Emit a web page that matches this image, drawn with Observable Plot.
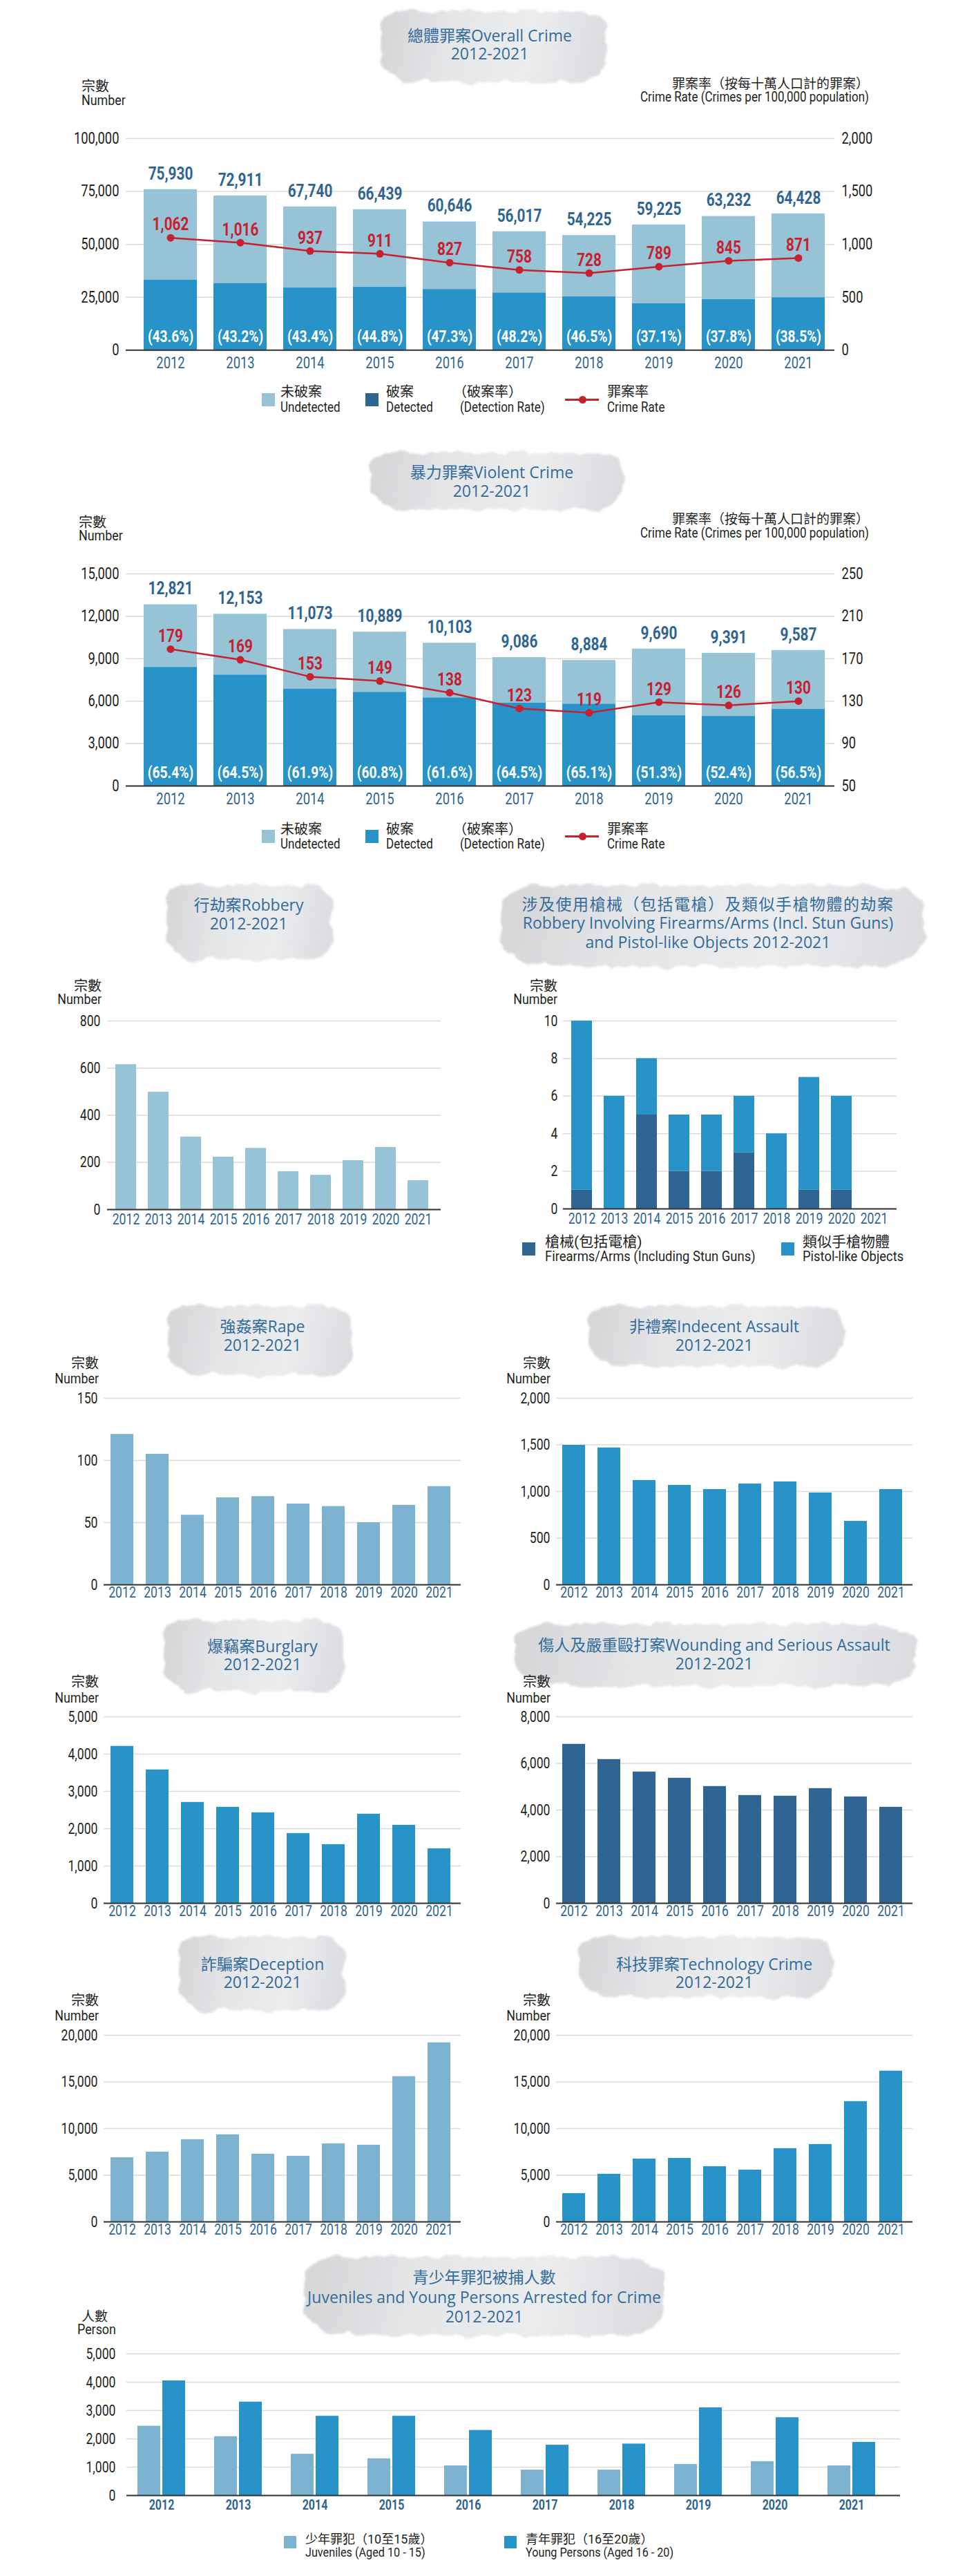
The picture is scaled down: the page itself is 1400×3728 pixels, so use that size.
<!DOCTYPE html>
<html><head><meta charset="utf-8">
<script src="https://cdn.jsdelivr.net/npm/d3@7"></script>
<script src="https://cdn.jsdelivr.net/npm/@observablehq/plot@0.6"></script>
<style>
html,body{margin:0;padding:0;background:#fff;}
#page{position:relative;width:1400px;height:3728px;overflow:hidden;background:#fff;}
.t{position:absolute;white-space:nowrap;line-height:1;}
.brush{position:absolute;filter:url(#rough);opacity:0.95;
 background:linear-gradient(100deg,#d2d3d6 0%,#e3e4e6 30%,#eaebed 65%,#d9dadd 100%);
 border-radius:10% 16% 12% 18% / 30% 24% 35% 28%;}
.sw{position:absolute;}
</style></head><body>
<svg width="0" height="0" style="position:absolute">
  <defs>
    <filter id="rough" x="-10%" y="-20%" width="120%" height="140%">
      <feTurbulence type="fractalNoise" baseFrequency="0.035" numOctaves="3" seed="4" result="noise"/>
      <feDisplacementMap in="SourceGraphic" in2="noise" scale="16" xChannelSelector="R" yChannelSelector="G" result="disp"/>
      <feGaussianBlur in="disp" stdDeviation="1.6"/>
    </filter>
  </defs>
</svg>
<div id="page"></div>
<script>
// ---------- data ----------
const years = ["2012","2013","2014","2015","2016","2017","2018","2019","2020","2021"];

const overallTotal = [75930,72911,67740,66439,60646,56017,54225,59225,63232,64428];
const overallDetected = [33105,31498,29399,29765,28686,27000,25215,21972,23902,24805];
const overallDetectionRate = ["43.6","43.2","43.4","44.8","47.3","48.2","46.5","37.1","37.8","38.5"];
const overallCrimeRate = [1062,1016,937,911,827,758,728,789,845,871];

const violentTotal = [12821,12153,11073,10889,10103,9086,8884,9690,9391,9587];
const violentDetected = [8385,7839,6854,6621,6223,5860,5783,4971,4921,5417];
const violentDetectionRate = ["65.4","64.5","61.9","60.8","61.6","64.5","65.1","51.3","52.4","56.5"];
const violentCrimeRate = [179,169,153,149,138,123,119,129,126,130];

const robbery = [615,498,308,223,260,161,146,208,264,123];
const firearmsArms = [1,0,5,2,2,3,0,1,1,0];
const pistolLike = [9,6,3,3,3,3,4,6,5,0];
const rape = [121,105,56,70,71,65,63,50,64,79];
const indecentAssault = [1496,1468,1119,1067,1022,1082,1104,985,681,1022];
const burglary = [4209,3578,2707,2577,2429,1873,1576,2392,2095,1465];
const wounding = [6823,6170,5636,5369,5013,4628,4598,4924,4568,4123];
const deception = [6897,7491,8826,9345,7268,7046,8381,8232,15575,19209];
const technology = [3041,5117,6749,6823,5933,5562,7862,8307,12905,16168];
const juveniles = [2450,2080,1460,1300,1050,900,900,1100,1200,1050];
const youngPersons = [4050,3300,2800,2800,2300,1780,1820,3100,2750,1880];

// ---------- style ----------
const NARROW = '"Roboto","Noto Sans CJK TC",sans-serif';
const TITLEF = '"Open Sans","Noto Sans CJK TC",sans-serif';
const LIGHT = "#96c3d6", MID = "#2893c8", DARK = "#2f6592", PALE = "#7db3d1", RED = "#c8202f";
const TITLEC = "#336c9c", INK = "#231f20", GRID = "#dadada";
const fmt = d3.format(",");
const CJK = /[\u3000-\u9fff\uff00-\uffef]/;

const page = document.getElementById("page");
function text(x, y, str, o = {}) {
  const d = document.createElement("div");
  d.className = "t"; d.textContent = str;
  const s = d.style;
  s.left = x + "px"; s.top = y + "px";
  s.fontSize = (o.size || 20) + "px";
  s.fontFamily = o.family || NARROW;
  s.color = o.color || INK;
  if (o.weight) s.fontWeight = o.weight;
  if (o.ls) s.letterSpacing = o.ls + "px";
  const cond = o.cond !== undefined ? o.cond : (o.family ? 1 : (CJK.test(str) ? 1 : 0.85));
  const tx = o.anchor === "middle" ? "-50%" : o.anchor === "end" ? "-100%" : "0";
  const ox = o.anchor === "middle" ? "50%" : o.anchor === "end" ? "100%" : "0%";
  s.transformOrigin = `${ox} 50%`;
  s.transform = `translate(${tx},-50%)` + (cond !== 1 ? ` scaleX(${cond})` : "");
  page.appendChild(d);
}
function brush(x, y, w, h) {
  const d = document.createElement("div");
  d.className = "brush";
  Object.assign(d.style, {left: x + "px", top: y + "px", width: w + "px", height: h + "px"});
  page.appendChild(d);
}
function swatch(x, y, w, h, c) {
  const d = document.createElement("div");
  d.className = "sw";
  Object.assign(d.style, {left: x + "px", top: y + "px", width: w + "px", height: h + "px", background: c});
  page.appendChild(d);
}
function condense(svg, f) {
  svg.querySelectorAll("text").forEach(t => {
    const len = t.getComputedTextLength();
    if (len > 0) { t.setAttribute("textLength", (len * f).toFixed(2)); t.setAttribute("lengthAdjust", "spacingAndGlyphs"); }
  });
}
function place(svg, left, top, w) {
  const d = document.createElement("div");
  Object.assign(d.style, {position: "absolute", left: left + "px", top: top + "px", width: w + "px"});
  d.appendChild(svg);
  page.appendChild(d);
  condense(svg, 0.8);
}
function title(cx, lines, y0, dy, o = {}) {
  lines.forEach((l, i) => text(cx, y0 + i * dy, l, {size: o.size || 23, family: TITLEF, color: TITLEC, anchor: "middle", ls: i === 0 ? o.ls : 0}));
}
const baseStyle = {fontFamily: NARROW, fontSize: "21px", color: INK, background: "transparent", overflow: "visible"};

// ---------- dual-axis charts ----------
function dual(cfg) {
  const mt = 50, mb = 44;
  const T = cfg.gridTop - mt, H = cfg.baseline - cfg.gridTop + mt + mb;
  const data = years.map((y, i) => ({year: y, total: cfg.total[i], detected: cfg.detected[i], pct: cfg.pct[i], rate: cfg.rate[i]}));
  const ry = cfg.rateToY;
  const svg = Plot.plot({
    width: 1400, height: H, marginLeft: 182, marginRight: 192, marginTop: mt, marginBottom: mb,
    style: baseStyle,
    x: {type: "band", domain: years, range: [193.8, 1207.2], paddingInner: 0.24, paddingOuter: 0.12, label: null},
    y: {domain: [0, cfg.yMax], label: null},
    marks: [
      Plot.gridY(cfg.yTicks, {stroke: GRID, strokeOpacity: 1, strokeWidth: 1.5}),
      Plot.axisY(cfg.yTicks, {anchor: "left", tickSize: 0, tickPadding: 10, tickFormat: fmt, fontSize: 23, fill: INK, label: null}),
      Plot.axisY(cfg.yTicks, {anchor: "right", tickSize: 0, tickPadding: 10, tickFormat: cfg.rightFmt, fontSize: 23, fill: INK, label: null}),
      Plot.axisX({tickSize: 0, tickPadding: 10, fontSize: 23, fill: DARK, label: null}),
      Plot.barY(data, {x: "year", y: "total", fill: LIGHT}),
      Plot.barY(data, {x: "year", y: "detected", fill: MID}),
      Plot.ruleY([0], {stroke: "#333", strokeWidth: 2}),
      Plot.line(data, {x: "year", y: d => ry(d.rate), stroke: RED, strokeWidth: 2.5}),
      Plot.dot(data, {x: "year", y: d => ry(d.rate), r: 5.5, fill: RED}),
      Plot.text(data, {x: "year", y: "total", text: d => fmt(d.total), dy: -23, fill: DARK, fontWeight: "bold", fontSize: 26}),
      Plot.text(data, {x: "year", y: d => ry(d.rate), text: d => fmt(d.rate), dy: -19, fill: RED, fontWeight: "bold", fontSize: 26}),
      Plot.text(data, {x: "year", y: 0, text: d => `(${d.pct}%)`, dy: -19, fill: "#fff", fontWeight: "bold", fontSize: 24})
    ]
  });
  place(svg, 0, T, 1400);
}

function dualLegend(y1, y2, detColor) {
  const sy = (y1 + y2) / 2 - 9.5;
  swatch(379, sy, 19, 19, LIGHT);
  text(406, y1, "未破案"); text(406, y2, "Undetected");
  swatch(529, sy, 19, 19, detColor);
  text(559, y1, "破案"); text(559, y2, "Detected");
  text(656, y1, "（破案率）"); text(666, y2, "(Detection Rate)");
  const ly = (y1 + y2) / 2;
  swatch(818, ly - 1.5, 49, 3, RED);
  const dot = document.createElement("div");
  Object.assign(dot.style, {position: "absolute", left: (843 - 5.5) + "px", top: (ly - 5.5) + "px", width: "11px", height: "11px", borderRadius: "50%", background: RED});
  page.appendChild(dot);
  text(879, y1, "罪案率"); text(879, y2, "Crime Rate");
}

// Overall crime
brush(551, 16, 328, 103);
title(709, ["總體罪案Overall Crime", "2012-2021"], 50.6, 26.5);
text(118, 124.5, "宗數"); text(118, 145, "Number", {size: 21});
text(1258, 120.6, "罪案率（按每十萬人口計的罪案）", {size: 19, anchor: "end"});
text(1258, 140, "Crime Rate (Crimes per 100,000 population)", {size: 20, anchor: "end"});
dual({gridTop: 199.7, baseline: 506, total: overallTotal, detected: overallDetected, pct: overallDetectionRate, rate: overallCrimeRate,
  yMax: 100000, yTicks: [0, 25000, 50000, 75000, 100000], rightFmt: d => fmt(d / 50), rateToY: r => r * 50});
dualLegend(567, 589, DARK);

// Violent crime
brush(536, 655, 365, 83);
title(712, ["暴力罪案Violent Crime", "2012-2021"], 683, 27);
text(114, 756, "宗數"); text(114, 775, "Number", {size: 21});
text(1258, 751, "罪案率（按每十萬人口計的罪案）", {size: 19, anchor: "end"});
text(1258, 771, "Crime Rate (Crimes per 100,000 population)", {size: 20, anchor: "end"});
dual({gridTop: 830, baseline: 1137, total: violentTotal, detected: violentDetected, pct: violentDetectionRate, rate: violentCrimeRate,
  yMax: 15000, yTicks: [0, 3000, 6000, 9000, 12000, 15000], rightFmt: d => fmt(50 + d / 75), rateToY: r => (r - 50) * 75});
dualLegend(1199.5, 1221, MID);

// ---------- simple bar charts ----------
function simple(cfg) {
  const mt = 30, mb = 40, L = cfg.left;
  const T = cfg.gridTop - mt, H = cfg.baseline - cfg.gridTop + mt + mb;
  const step = cfg.step, bw = cfg.bw;
  const pin = 1 - bw / step, pout = pin / 2;
  const r0 = cfg.first - pout * step - L, r1 = cfg.first + 9 * step + bw + pout * step - L;
  const marks = [
    Plot.gridY(cfg.yTicks, {stroke: GRID, strokeOpacity: 1, strokeWidth: 1.5}),
    Plot.axisY(cfg.yTicks, {anchor: "left", tickSize: 0, tickPadding: cfg.tickPad || 9, tickFormat: fmt, fontSize: 22, fill: INK, label: null}),
    Plot.axisX({tickSize: 0, tickPadding: cfg.yearPad, fontSize: 22, fill: DARK, label: null})
  ];
  if (cfg.stack) {
    const long = [];
    years.forEach((y, i) => { long.push({year: y, type: "a", v: cfg.stack[0][i]}); long.push({year: y, type: "b", v: cfg.stack[1][i]}); });
    marks.push(Plot.barY(long, {x: "year", y: "v", fill: "type"}));
  } else {
    const data = years.map((y, i) => ({year: y, v: cfg.values[i]}));
    marks.push(Plot.barY(data, {x: "year", y: "v", fill: cfg.color}));
  }
  marks.push(Plot.ruleY([0], {stroke: "#333", strokeWidth: 2}));
  const svg = Plot.plot({
    width: 700, height: H, marginLeft: cfg.frameL - L, marginRight: L + 700 - cfg.frameR, marginTop: mt, marginBottom: mb,
    style: baseStyle,
    x: {type: "band", domain: years, range: [r0, r1], paddingInner: pin, paddingOuter: pout, label: null},
    y: {domain: [0, cfg.yMax], label: null},
    color: {domain: ["a", "b"], range: [DARK, MID]},
    marks
  });
  place(svg, L, T, 700);
}
function numLabel(xr, y1, y2) {
  text(xr, y1, "宗數", {anchor: "end"});
  text(xr, y2, "Number", {size: 21, anchor: "end"});
}

// Robbery
brush(241, 1281, 239, 108);
title(360, ["行劫案Robbery", "2012-2021"], 1309, 27);
numLabel(147, 1427, 1446);
simple({left: 0, frameL: 155, frameR: 638, gridTop: 1477, baseline: 1750, first: 163, step: 47.8, bw: 31,
  values: robbery, color: LIGHT, yMax: 800, yTicks: [0, 200, 400, 600, 800], yearPad: 6, tickPad: 10});

// Firearms
brush(725, 1281, 613, 118);
title(1025, ["涉及使用槍械（包括電槍）及類似手槍物體的劫案", "Robbery Involving Firearms/Arms (Incl. Stun Guns)", "and Pistol-like Objects 2012-2021"], 1307.5, 27.5, {ls: 1.5});
numLabel(807, 1427, 1446);
simple({left: 700, frameL: 815, frameR: 1298, gridTop: 1477, baseline: 1749, first: 823, step: 47.9, bw: 31,
  stack: [firearmsArms, pistolLike], yMax: 10, yTicks: [0, 2, 4, 6, 8, 10], yearPad: 6, tickPad: 8});
swatch(756, 1798, 19, 19, DARK);
text(789, 1797, "槍械(包括電槍)", {size: 21}); text(789, 1818, "Firearms/Arms (Including Stun Guns)", {size: 20, cond: 0.92});
swatch(1131, 1798, 19, 19, MID);
text(1162, 1797, "類似手槍物體", {size: 21}); text(1162, 1818, "Pistol-like Objects", {size: 20, cond: 0.92});

// Rape
brush(243, 1890, 268, 100);
title(380, ["強姦案Rape", "2012-2021"], 1919, 27);
numLabel(143, 1973, 1995);
simple({left: 0, frameL: 150, frameR: 667, gridTop: 2023, baseline: 2293, first: 160, step: 51, bw: 33,
  values: rape, color: PALE, yMax: 150, yTicks: [0, 50, 100, 150], yearPad: 3});

// Indecent assault
brush(852, 1890, 368, 87);
title(1034, ["非禮案Indecent Assault", "2012-2021"], 1919, 27);
numLabel(797, 1973, 1995);
simple({left: 700, frameL: 805, frameR: 1321, gridTop: 2023, baseline: 2293, first: 814, step: 51.1, bw: 33,
  values: indecentAssault, color: MID, yMax: 2000, yTicks: [0, 500, 1000, 1500, 2000], yearPad: 3});

// Burglary
brush(237, 2345, 261, 103);
title(380, ["爆竊案Burglary", "2012-2021"], 2382, 25.5);
numLabel(143, 2434, 2457);
simple({left: 0, frameL: 150, frameR: 667, gridTop: 2484, baseline: 2754, first: 160, step: 51, bw: 33,
  values: burglary, color: MID, yMax: 5000, yTicks: [0, 1000, 2000, 3000, 4000, 5000], yearPad: 3});

// Wounding
brush(745, 2350, 580, 90);
title(1034, ["傷人及嚴重毆打案Wounding and Serious Assault", "2012-2021"], 2380, 27);
numLabel(797, 2434, 2457);
simple({left: 700, frameL: 805, frameR: 1321, gridTop: 2484, baseline: 2754, first: 814, step: 51.1, bw: 33,
  values: wounding, color: DARK, yMax: 8000, yTicks: [0, 2000, 4000, 6000, 8000], yearPad: 3});

// Deception
brush(259, 2803, 239, 107);
title(380, ["詐騙案Deception", "2012-2021"], 2842, 25.5);
numLabel(143, 2895, 2917);
simple({left: 0, frameL: 150, frameR: 667, gridTop: 2945, baseline: 3215, first: 160, step: 51, bw: 33,
  values: deception, color: PALE, yMax: 20000, yTicks: [0, 5000, 10000, 15000, 20000], yearPad: 3});

// Technology crime
brush(838, 2803, 366, 87);
title(1034, ["科技罪案Technology Crime", "2012-2021"], 2842, 25.5);
numLabel(797, 2895, 2917);
simple({left: 700, frameL: 805, frameR: 1321, gridTop: 2945, baseline: 3215, first: 814, step: 51.1, bw: 33,
  values: technology, color: MID, yMax: 20000, yTicks: [0, 5000, 10000, 15000, 20000], yearPad: 3});

// ---------- juveniles & young persons ----------
brush(440, 3266, 523, 114);
title(701, ["青少年罪犯被捕人數", "Juveniles and Young Persons Arrested for Crime", "2012-2021"], 3295, 28.5);
text(118, 3352, "人數", {size: 19}); text(112, 3371, "Person", {size: 21});
(function () {
  const gridTop = 3406, baseline = 3611, mt = 30, mb = 40;
  const jd = years.map((y, i) => ({year: y, v: juveniles[i]}));
  const yd = years.map((y, i) => ({year: y, v: youngPersons[i]}));
  const ticks = [0, 1000, 2000, 3000, 4000, 5000];
  const svg = Plot.plot({
    width: 1400, height: baseline - gridTop + mt + mb, marginLeft: 183, marginRight: 97, marginTop: mt, marginBottom: mb,
    style: baseStyle,
    x: {type: "band", domain: years, range: [178, 1288], padding: 0, label: null},
    y: {domain: [0, 5000], label: null},
    marks: [
      Plot.gridY(ticks, {stroke: GRID, strokeOpacity: 1, strokeWidth: 1.5}),
      Plot.axisY(ticks, {anchor: "left", tickSize: 0, tickPadding: 16, tickFormat: fmt, fontSize: 22, fill: INK, label: null}),
      Plot.axisX({tickSize: 0, tickPadding: 6, fontSize: 20, fontWeight: "bold", fill: DARK, label: null}),
      Plot.barY(jd, {x: "year", y: "v", fill: PALE, insetLeft: 21, insetRight: 57}),
      Plot.barY(yd, {x: "year", y: "v", fill: MID, insetLeft: 57, insetRight: 21}),
      Plot.ruleY([0], {stroke: "#333", strokeWidth: 2})
    ]
  });
  place(svg, 0, gridTop - mt, 1400);
})();
swatch(411, 3670, 18, 18, PALE);
text(442, 3675, "少年罪犯（10至15歲）", {size: 18}); text(442, 3694, "Juveniles (Aged 10 - 15)", {size: 18, cond: 0.9});
swatch(730, 3670, 18, 18, MID);
text(761, 3675, "青年罪犯（16至20歲）", {size: 18}); text(761, 3694, "Young Persons (Aged 16 - 20)", {size: 18, cond: 0.9});
</script></body></html>
